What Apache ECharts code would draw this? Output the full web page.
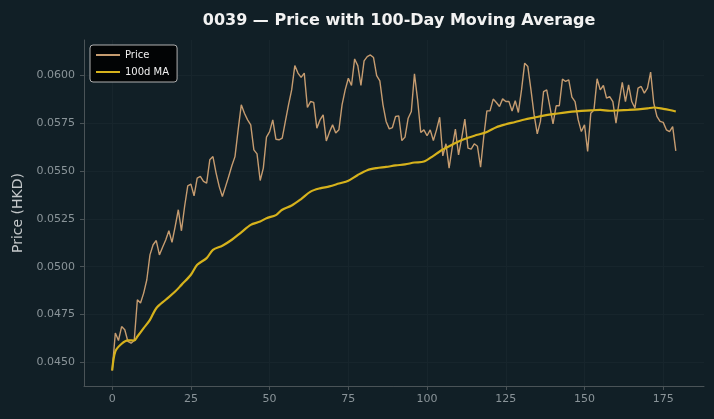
<!DOCTYPE html>
<html>
<head>
<meta charset="UTF-8">
<title>0039 price</title>
<script src="https://cdn.jsdelivr.net/npm/echarts@6.0.0/dist/echarts.min.js"></script>
<style>
  html, body { margin: 0; padding: 0; background: #111f26; }
  #main { width: 714px; height: 419px; }
</style>
<script>
// closing price per trading day (day = position in array)
var price = [
  0.04457, 0.04653, 0.04614, 0.04687, 0.04670, 0.04609, 0.04600, 0.04614, 0.04827, 0.04810,
  0.04862, 0.04932, 0.05062, 0.05115, 0.05137, 0.05062, 0.05102, 0.05140, 0.05188, 0.05127,
  0.05210, 0.05298, 0.05188, 0.05315, 0.05423, 0.05432, 0.05371, 0.05463, 0.05472, 0.05446,
  0.05437, 0.05559, 0.05576, 0.05490, 0.05419, 0.05367, 0.05419, 0.05472, 0.05528, 0.05576,
  0.05716, 0.05847, 0.05803, 0.05768, 0.05742, 0.05611, 0.05590, 0.05451, 0.05516, 0.05678,
  0.05707, 0.05768, 0.05667, 0.05664, 0.05673, 0.05760, 0.05847, 0.05925, 0.06052, 0.06013,
  0.05990, 0.06013, 0.05833, 0.05864, 0.05860, 0.05725, 0.05768, 0.05794, 0.05658, 0.05704,
  0.05742, 0.05699, 0.05716, 0.05847, 0.05925, 0.05986, 0.05948, 0.06087, 0.06052, 0.05948,
  0.06077, 0.06099, 0.06108, 0.06094, 0.06000, 0.05972, 0.05847, 0.05760, 0.05721, 0.05728,
  0.05786, 0.05789, 0.05660, 0.05678, 0.05777, 0.05812, 0.06009, 0.05873, 0.05702, 0.05716,
  0.05685, 0.05716, 0.05660, 0.05716, 0.05782, 0.05580, 0.05643, 0.05516, 0.05625, 0.05720,
  0.05585, 0.05673, 0.05772, 0.05620, 0.05615, 0.05643, 0.05630, 0.05521, 0.05680, 0.05815,
  0.05815, 0.05877, 0.05859, 0.05838, 0.05878, 0.05864, 0.05864, 0.05815, 0.05868, 0.05807,
  0.05925, 0.06065, 0.06047, 0.05925, 0.05794, 0.05695, 0.05760, 0.05916, 0.05925, 0.05838,
  0.05747, 0.05842, 0.05842, 0.05981, 0.05969, 0.05978, 0.05887, 0.05864, 0.05768, 0.05707,
  0.05742, 0.05603, 0.05803, 0.05820, 0.05983, 0.05925, 0.05948, 0.05882, 0.05890, 0.05864,
  0.05751, 0.05864, 0.05965, 0.05864, 0.05951, 0.05864, 0.05830, 0.05934, 0.05943, 0.05908,
  0.05934, 0.06018, 0.05856, 0.05786, 0.05760, 0.05755, 0.05716, 0.05707, 0.05733, 0.05606
];

// 100d moving average, read at these days
var maDay = [0, 1, 3, 5, 7, 8, 10, 12, 14, 17, 20, 22, 25, 27, 30, 32, 35, 38, 41, 44,
  47, 49, 52, 54, 57, 60, 63, 66, 69, 72, 75, 78, 81, 84, 87, 90, 93, 96, 99, 102,
  104, 107, 110, 113, 116, 119, 122, 125, 128, 131, 134, 137, 140, 143, 146, 149, 152, 155, 158, 161,
  164, 167, 170, 172, 175, 177, 179];
var maVal = [0.04457, 0.04557, 0.04597, 0.04615, 0.04614, 0.04635, 0.04679, 0.04722, 0.04783, 0.04827,
  0.04870, 0.04905, 0.04958, 0.05010, 0.05045, 0.05088, 0.05110, 0.05141, 0.05180, 0.05219,
  0.05236, 0.05254, 0.05270, 0.05298, 0.05320, 0.05354, 0.05393, 0.05410, 0.05420, 0.05435,
  0.05450, 0.05480, 0.05505, 0.05516, 0.05522, 0.05530, 0.05535, 0.05545, 0.05550, 0.05580,
  0.05603, 0.05630, 0.05655, 0.05675, 0.05690, 0.05705, 0.05730, 0.05745, 0.05757, 0.05770,
  0.05780, 0.05790, 0.05798, 0.05805, 0.05811, 0.05815, 0.05818, 0.05820, 0.05816, 0.05818,
  0.05820, 0.05823, 0.05828, 0.05833, 0.05826, 0.05820, 0.05812];

var xTicks = [0, 25, 50, 75, 100, 125, 150, 175];
var yTicks = [0.0450, 0.0475, 0.0500, 0.0525, 0.0550, 0.0575, 0.0600];
</script>
</head>
<body>
<div id="main"></div>
<script>
  var myChart = echarts.init(document.getElementById('main'));

  var priceData = [];
  for (var i = 0; i < price.length; i++) priceData.push([i, price[i]]);
  var maData = [];
  for (var j = 0; j < maDay.length; j++) maData.push([maDay[j], maVal[j]]);

  var font = 'DejaVu Sans';
  var gridColor = '#17252c';
  var spineColor = '#4a5357';
  var tickText = '#8a9499';

  option = {
    backgroundColor: '#111f26',
    animation: false,
    textStyle: { fontFamily: font },
    title: {
      text: '0039 — Price with 100-Day Moving Average',
      left: 394,
      textAlign: 'center',
      top: 8,
      textStyle: { color: '#f2f2f2', fontSize: 16, fontWeight: 'bold', fontFamily: font }
    },
    legend: {
      left: 90,
      top: 45,
      orient: 'vertical',
      backgroundColor: '#020405',
      borderColor: '#b0b0b0',
      borderWidth: 1,
      borderRadius: 3,
      padding: [5, 8, 5, 6],
      icon: 'rect',
      itemWidth: 24,
      itemHeight: 2,
      itemGap: 7,
      textStyle: { color: '#f0f0f0', fontSize: 10, fontFamily: font },
      data: ['Price', '100d MA']
    },
    grid: { left: 84, right: 10, top: 40, bottom: 33 },
    xAxis: {
      type: 'value',
      min: -8.95,
      max: 187.95,
      axisLine: { show: true, onZero: false, lineStyle: { color: spineColor, width: 1 } },
      axisTick: { show: true, length: 4, customValues: xTicks, lineStyle: { color: spineColor } },
      axisLabel: { customValues: xTicks, color: tickText, fontSize: 11, margin: 8, fontFamily: font },
      splitLine: { show: true, lineStyle: { color: gridColor, width: 1 } }
    },
    yAxis: {
      type: 'value',
      min: 0.04376,
      max: 0.06186,
      name: 'Price (HKD)',
      nameLocation: 'middle',
      nameGap: 58,
      nameTextStyle: { color: '#c4c8ca', fontSize: 14, fontFamily: font },
      axisLine: { show: true, onZero: false, lineStyle: { color: spineColor, width: 1 } },
      axisTick: { show: true, length: 4, customValues: yTicks, lineStyle: { color: spineColor } },
      axisLabel: {
        customValues: yTicks, color: tickText, fontSize: 11, margin: 9, fontFamily: font,
        formatter: function (v) { return v.toFixed(4); }
      },
      splitLine: { show: true, lineStyle: { color: gridColor, width: 1 } }
    },
    series: [
      {
        name: 'Price',
        type: 'line',
        data: priceData,
        showSymbol: false,
        symbol: 'none',
        lineStyle: { color: '#c69c70', width: 1.4 },
        itemStyle: { color: '#c69c70' }
      },
      {
        name: '100d MA',
        type: 'line',
        data: maData,
        showSymbol: false,
        symbol: 'none',
        smooth: 0.3,
        lineStyle: { color: '#d6b21c', width: 2.2 },
        itemStyle: { color: '#d6b21c' }
      }
    ]
  };

  myChart.setOption(option);
</script>
</body>
</html>
